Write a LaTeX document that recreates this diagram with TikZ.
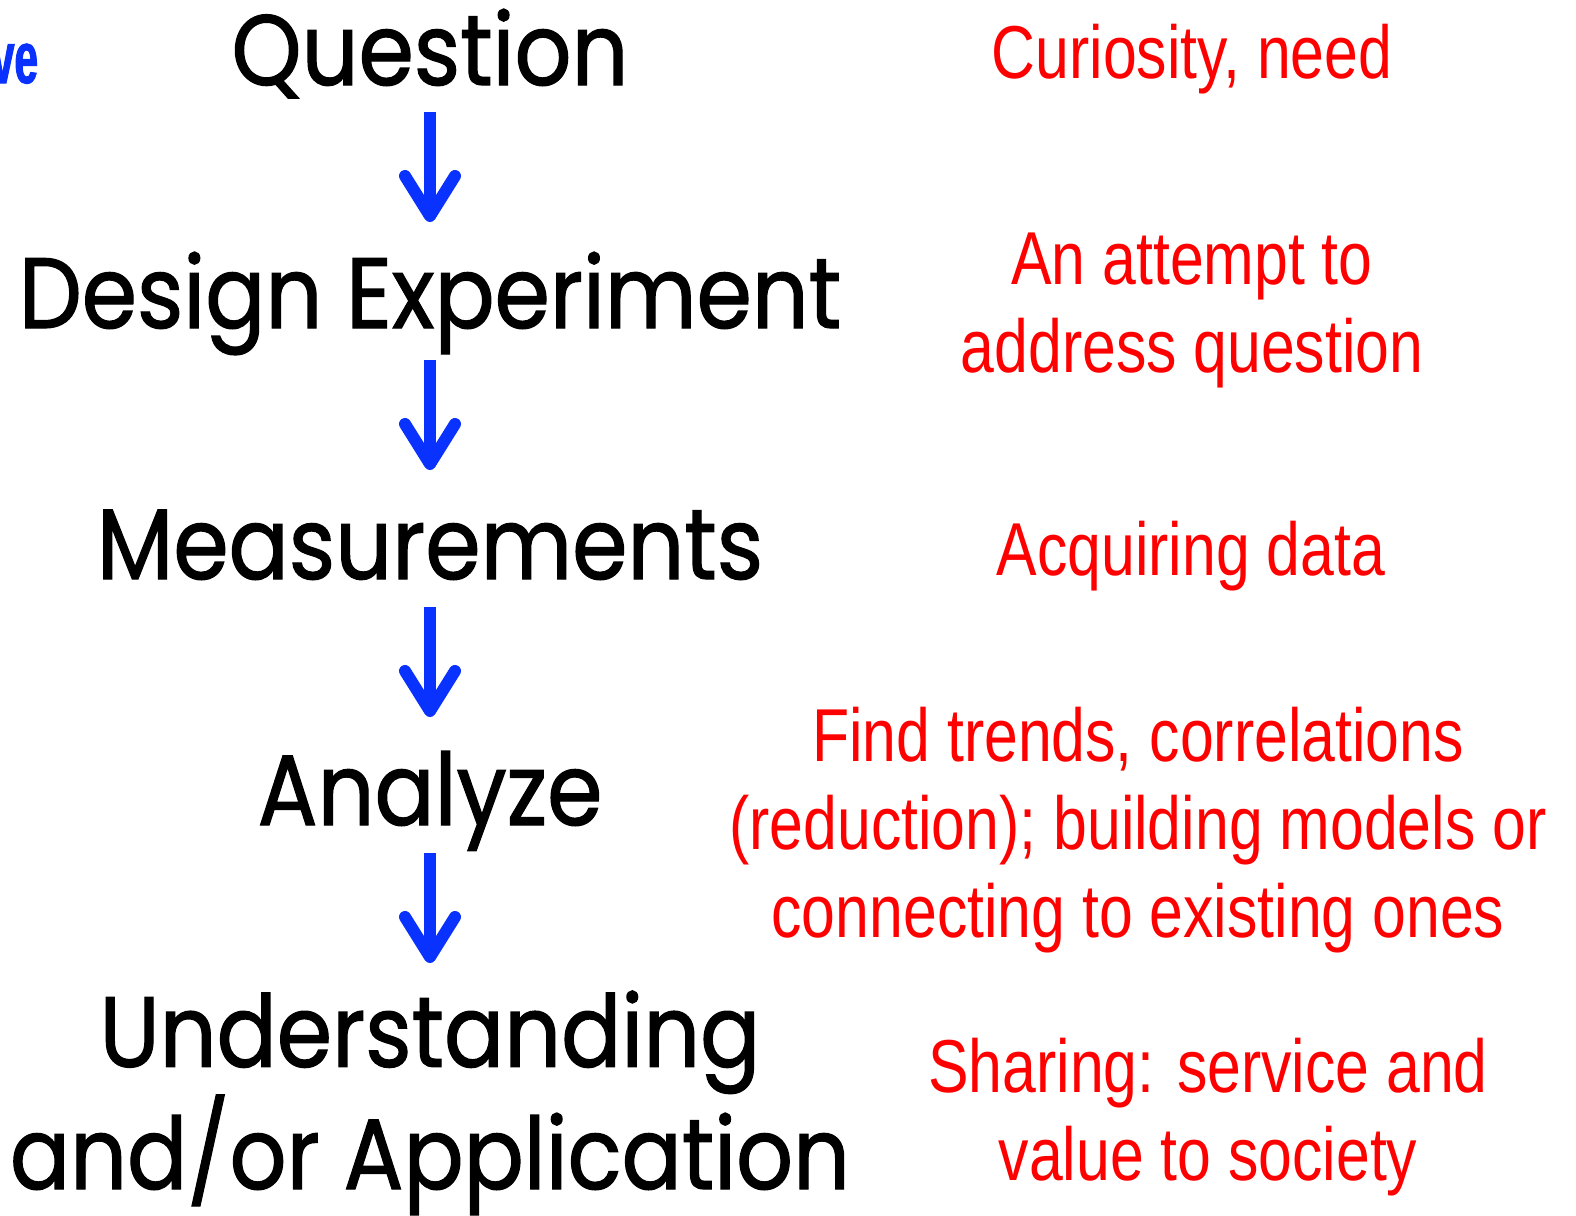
\documentclass[tikz,border=0pt]{standalone}
\usepackage{fontspec}
\usetikzlibrary{arrows.meta}

\newfontfamily\stagefont[FakeStretch=0.89,FakeBold=1.2]{Poppins}
\newfontfamily\notefont[FakeStretch=0.81]{Liberation Sans}
\newfontfamily\tagfont[FakeStretch=0.58,FakeBold=1.5]{Liberation Sans}

\definecolor{flowblue}{RGB}{10,50,255}
\definecolor{notered}{RGB}{255,0,0}

\begin{document}
\begin{tikzpicture}
    [x=1pt,y=-1pt
    ,every node/.style={inner sep=0pt,outer sep=0pt}
    ,stage/.style={font=\stagefont\fontsize{100}{115}\selectfont,align=center,anchor=base}
    ,note/.style={text=notered,font=\notefont\fontsize{75}{88}\selectfont,align=center,anchor=base}
    ,flow/.style={flowblue,line width=12pt,-{Straight Barb[length=40pt,width=50pt,round]}}
    ]

    \fill[white] (0,0) rectangle (1576,1215);
    \useasboundingbox (0,0) rectangle (1576,1215);

    % left column: the steps (base = last line)
    \node[stage] (n1) at (430,85) {Question};
    \node[stage] (n2) at (430,328) {Design Experiment};
    \node[stage] (n3) at (430,579) {Measurements};
    \node[stage] (n4) at (430,825) {Analyze};
    \node[stage] (n5) at (430,1189) {Understanding\\and/or Application};

    \node[anchor=base east,text=flowblue,font=\tagfont\bfseries\fontsize{73}{80}\selectfont] (tag) at (38,83) {ve};

    % right column: what each step means
    \node[note] (r1) at (1192,78) {Curiosity, need};
    \node[note] (r2) at (1192,372) {An attempt to\\address question};
    \node[note] (r3) at (1191,575) {Acquiring data};
    \node[note] (r4) at (1138,937) {Find trends, correlations\\(reduction); building models or\\connecting to existing ones};
    \node[note] (r5) at (1208,1180) {Sharing: service and\\value to society};

    \draw [flow] ([yshift=-27pt]n1.base) -- ([yshift=106pt]n2.base);
    \draw [flow] ([yshift=-32pt]n2.base) -- ([yshift=109pt]n3.base);
    \draw [flow] ([yshift=-28pt]n3.base) -- ([yshift=108pt]n4.base);
    \draw [flow] ([yshift=-28pt]n4.base) -- ([yshift=226pt]n5.base);

  \end{tikzpicture}
\end{document}
